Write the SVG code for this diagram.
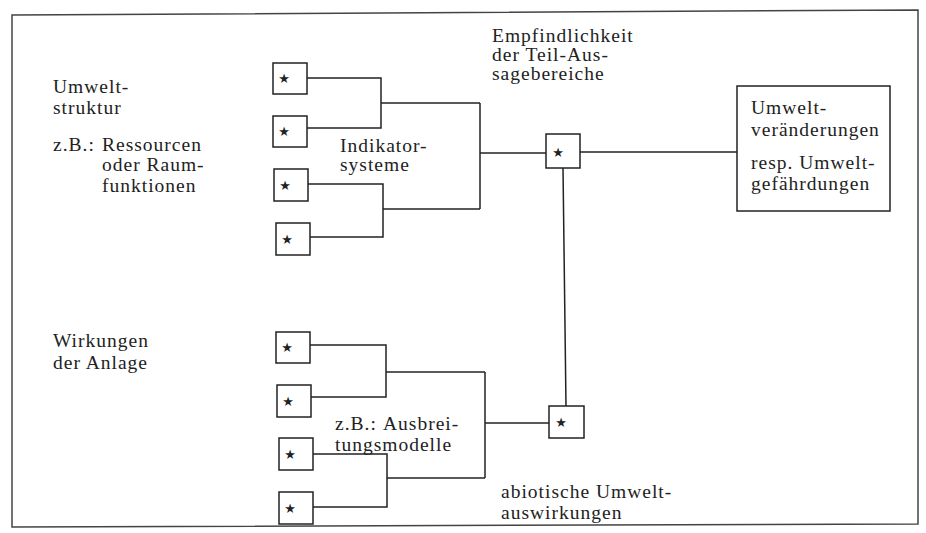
<svg xmlns="http://www.w3.org/2000/svg" width="926" height="533" viewBox="0 0 926 533">
<style>
  .t { font-family: "Liberation Serif", "Times New Roman", serif; font-size: 19.5px; letter-spacing: 1px; fill: #222; }
  .b { fill: #fff; stroke: #222; stroke-width: 1.5; }
  .s { font-family: "DejaVu Sans", sans-serif; font-size: 13px; fill: #222; text-anchor: middle; }
  .c { fill: none; stroke: #222; stroke-width: 1.5; }
</style>
<rect width="926" height="533" fill="#fff"/>
<path id="frame" d="M12,15 L918,10 L918,524 L12,527 Z" fill="none" stroke="#444" stroke-width="1.5"/>

<g id="connectors" class="c">
  <path d="M307,78 H381 V128 H307"/>
  <path d="M381,103 H480"/>
  <path d="M308,184 H383 V237 H310"/>
  <path d="M383,209 H480"/>
  <path d="M480,103 V209"/>
  <path d="M480,153 H546"/>
  <path d="M580,152 H737"/>
  <path d="M563,168 L566,406"/>
  <path d="M310,345 H386 V397 H311"/>
  <path d="M386,372 H485"/>
  <path d="M313,454 H387 V507 H313"/>
  <path d="M387,478 H485"/>
  <path d="M485,372 V478"/>
  <path d="M485,423 H549"/>
</g>

<g id="labels-left">
  <text class="t" x="53" y="93">Umwelt-</text>
  <text class="t" x="53" y="114">struktur</text>
  <text class="t" x="53" y="151">z.B.:<tspan x="102">Ressourcen</tspan></text>
  <text class="t" x="102" y="171">oder Raum-</text>
  <text class="t" x="102" y="192">funktionen</text>
  <text class="t" x="53" y="347">Wirkungen</text>
  <text class="t" x="53" y="369">der Anlage</text>
</g>
<g id="labels-mid">
  <text class="t" x="340" y="152">Indikator-</text>
  <text class="t" x="340" y="171">systeme</text>
  <text class="t" x="335" y="430">z.B.:<tspan x="383">Ausbrei-</tspan></text>
  <text class="t" x="335" y="451">tungsmodelle</text>
  <text class="t" x="492" y="42">Empfindlichkeit</text>
  <text class="t" x="492" y="61">der Teil-Aus-</text>
  <text class="t" x="492" y="80">sagebereiche</text>
  <text class="t" x="501" y="498">abiotische Umwelt-</text>
  <text class="t" x="501" y="519">auswirkungen</text>
</g>

<g id="n1"><rect class="b" x="273" y="63" width="34" height="31"/><text class="s" x="284" y="83">★</text></g>
<g id="n2"><rect class="b" x="273" y="116" width="34" height="31"/><text class="s" x="284" y="136">★</text></g>
<g id="n3"><rect class="b" x="274" y="169" width="34" height="32"/><text class="s" x="285" y="190">★</text></g>
<g id="n4"><rect class="b" x="276" y="223" width="34" height="32"/><text class="s" x="287" y="244">★</text></g>
<g id="n5"><rect class="b" x="276" y="332" width="34" height="31"/><text class="s" x="287" y="352">★</text></g>
<g id="n6"><rect class="b" x="277" y="385" width="34" height="32"/><text class="s" x="288" y="406">★</text></g>
<g id="n7"><rect class="b" x="279" y="438" width="34" height="32"/><text class="s" x="290" y="459">★</text></g>
<g id="n8"><rect class="b" x="279" y="492" width="34" height="32"/><text class="s" x="290" y="513">★</text></g>
<g id="c1"><rect class="b" x="546" y="134" width="34" height="34"/><text class="s" x="558" y="157">★</text></g>
<g id="c2"><rect class="b" x="549" y="406" width="35" height="32"/><text class="s" x="561" y="427">★</text></g>
<g id="result">
  <rect class="b" x="737" y="86" width="153" height="125"/>
  <text class="t" x="751" y="114">Umwelt-</text>
  <text class="t" x="751" y="136">veränderungen</text>
  <text class="t" x="751" y="169">resp. Umwelt-</text>
  <text class="t" x="751" y="190">gefährdungen</text>
</g>
</svg>
